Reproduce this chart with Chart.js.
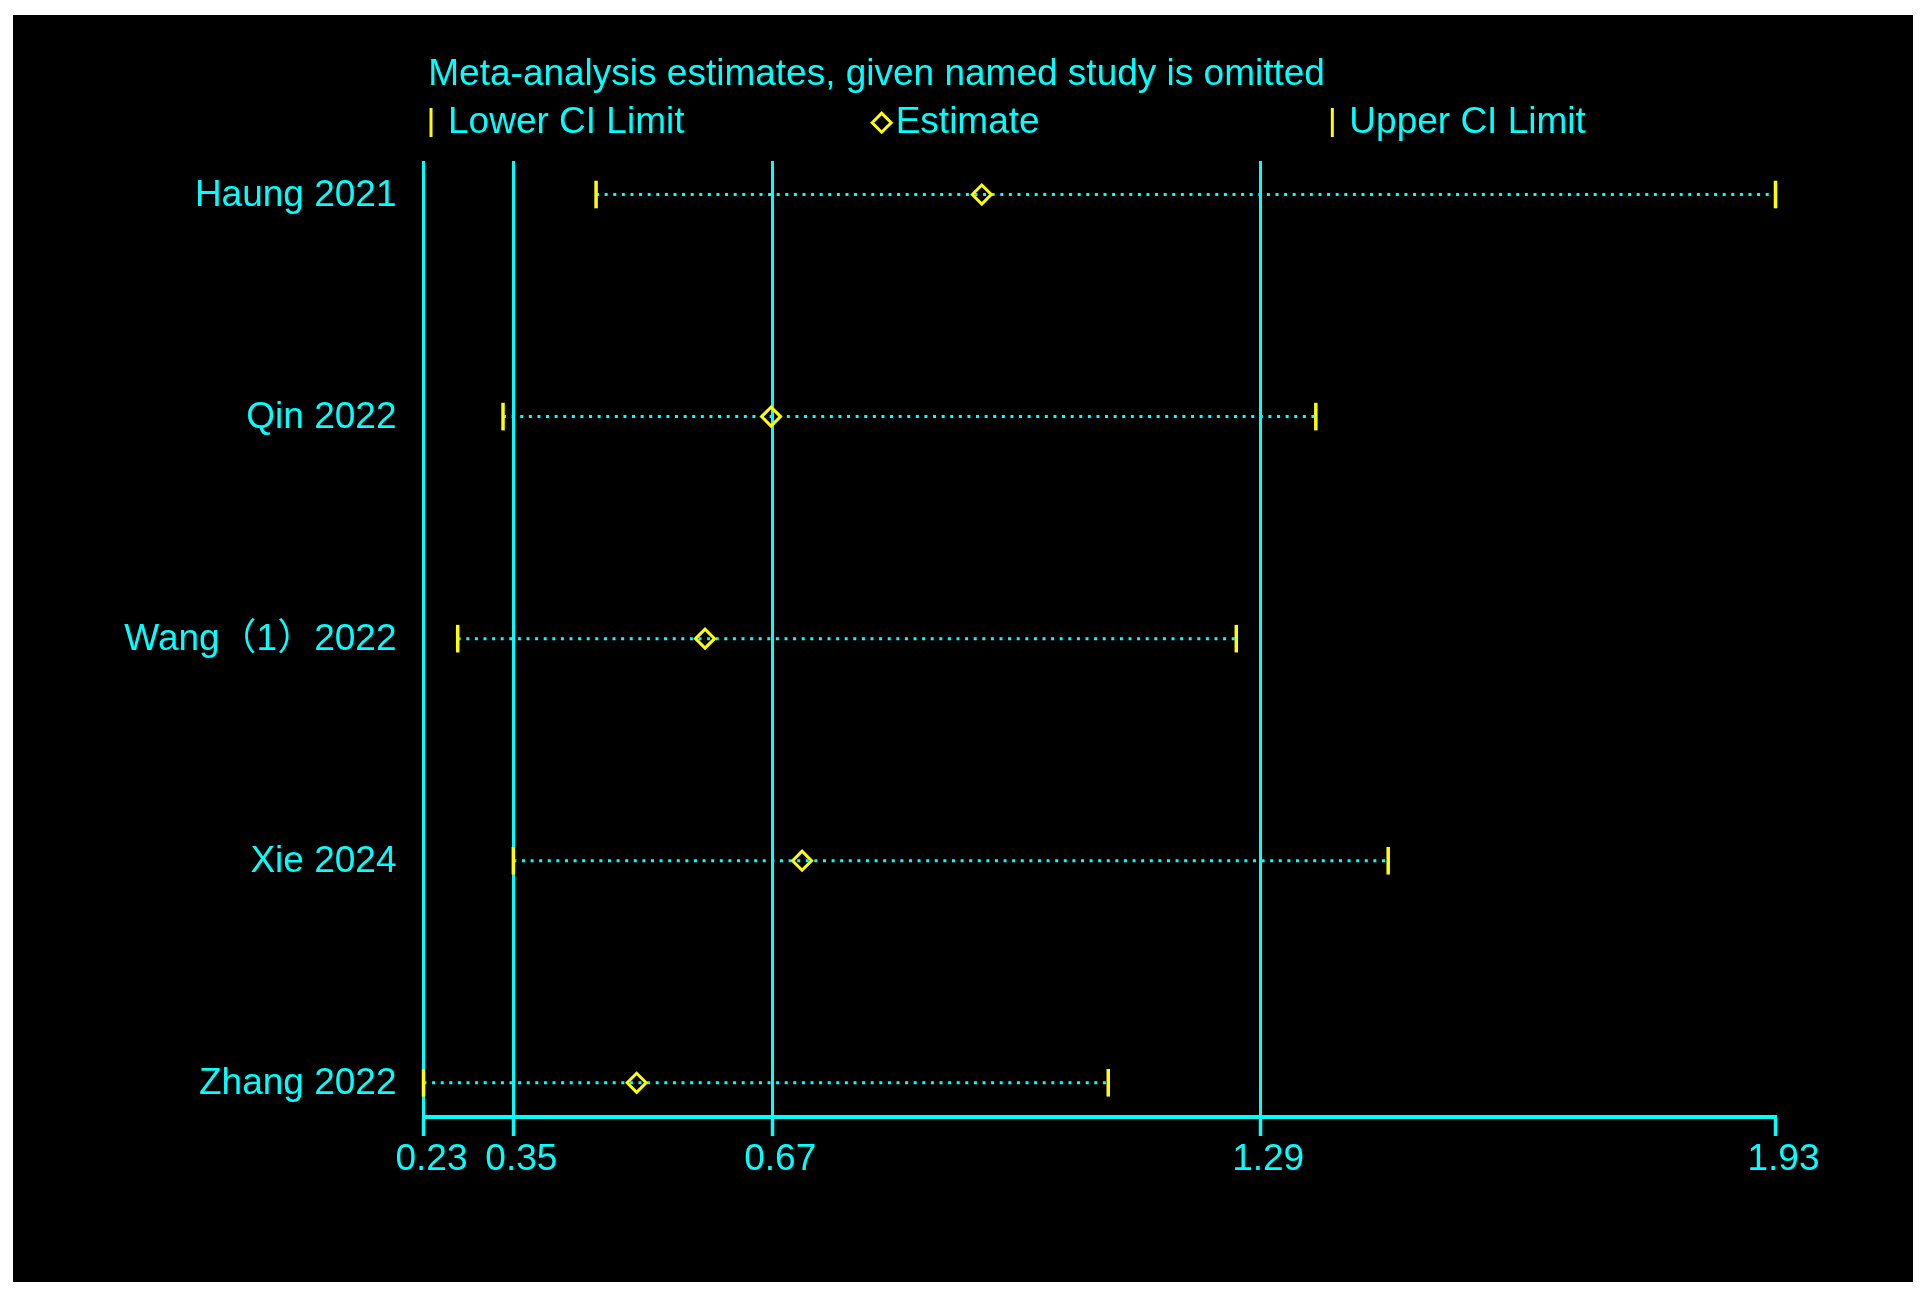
<!DOCTYPE html>
<html>
<head>
<meta charset="utf-8">
<script src="https://cdn.jsdelivr.net/npm/chart.js@4.4.1/dist/chart.umd.min.js"></script>
<style>
html,body{margin:0;padding:0;background:#fff;width:1931px;height:1302px;overflow:hidden;}
#wrap{position:absolute;left:13px;top:15px;width:1900px;height:1267px;background:#000;}
canvas{display:block;}
</style>
</head>
<body>
<div id="wrap"><canvas id="c" width="1900" height="1267"></canvas></div>
<script>
// ---- data ----
const studies = ['Haung 2021', 'Qin 2022', 'Wang（1）2022', 'Xie 2024', 'Zhang 2022'];
const lowerCI  = [0.447, 0.330, 0.273, 0.343, 0.230];
const estimate = [0.932, 0.667, 0.584, 0.706, 0.498];
const upperCI  = [1.930, 1.352, 1.252, 1.443, 1.091];
const tickValues = [0.23, 0.343, 0.6685, 1.282, 1.93];
const tickLabels = ['0.23', '0.35', '0.67', '1.29', '1.93'];
const legendLabels = ['Lower CI Limit', 'Estimate', 'Upper CI Limit'];
const titleText = 'Meta-analysis estimates, given named study is omitted';

// ---- styles ----
const CYAN = '#00FFFF';
const YELLOW = '#FFFF00';
const FONT = '"Liberation Sans", Arial, "Noto Sans CJK SC", sans-serif';
const FSIZE = 37;

const pts = arr => arr.map((v, i) => ({x: v, y: i}));

const datasets = [
  {
    label: legendLabels[1], data: pts(estimate),
    pointStyle: 'rectRot', pointRadius: 9.5, pointBorderWidth: 3,
    pointBorderColor: YELLOW, pointBackgroundColor: 'rgba(0,0,0,0)',
    showLine: false, clip: false
  },
  {
    label: legendLabels[0], data: pts(lowerCI),
    pointStyle: 'line', pointRotation: 90, pointRadius: 13.8, pointBorderWidth: 3.5,
    pointBorderColor: YELLOW, pointBackgroundColor: YELLOW,
    showLine: false, clip: false
  },
  {
    label: legendLabels[2], data: pts(upperCI),
    pointStyle: 'line', pointRotation: 90, pointRadius: 13.8, pointBorderWidth: 3.5,
    pointBorderColor: YELLOW, pointBackgroundColor: YELLOW,
    showLine: false, clip: false
  }
];
studies.forEach((s, i) => {
  datasets.push({
    type: 'line', label: s,
    data: [{x: lowerCI[i], y: i}, {x: upperCI[i], y: i}],
    borderColor: CYAN, borderWidth: 3, borderDash: [3, 5.6], borderCapStyle: 'butt',
    pointRadius: 0, fill: false, clip: false
  });
});

const overlay = {
  id: 'overlay',
  afterDraw(chart) {
    const {ctx, chartArea: a} = chart;
    ctx.save();
    ctx.font = FSIZE + 'px ' + FONT;
    ctx.textBaseline = 'alphabetic';
    ctx.textAlign = 'left';
    ctx.fillStyle = CYAN;
    ctx.fillText(titleText, a.left + 4.8, 70);
    const colW = a.width / 3;
    legendLabels.forEach((lab, i) => {
      const x0 = a.left + i * colW + 7.5;
      ctx.strokeStyle = YELLOW;
      ctx.lineWidth = 3;
      ctx.beginPath();
      if (i === 1) {
        const r = 9.5, cy = 107.7;
        ctx.moveTo(x0 - r, cy); ctx.lineTo(x0, cy - r);
        ctx.lineTo(x0 + r, cy); ctx.lineTo(x0, cy + r); ctx.closePath();
      } else {
        ctx.moveTo(x0, 93); ctx.lineTo(x0, 122);
      }
      ctx.stroke();
      ctx.fillStyle = CYAN;
      ctx.fillText(lab, x0 + (i === 1 ? 14 : 17), 118);
    });
    ctx.restore();
  }
};

new Chart(document.getElementById('c'), {
  type: 'scatter',
  data: {datasets},
  plugins: [overlay],
  options: {
    responsive: false,
    animation: false,
    events: [],
    layout: {padding: {top: 146, right: 137.5, bottom: 0, left: 0}},
    plugins: {legend: {display: false}, tooltip: {enabled: false}, title: {display: false}},
    scales: {
      x: {
        type: 'linear', min: 0.23, max: 1.93,
        afterBuildTicks: sc => { sc.ticks = tickValues.map(v => ({value: v})); },
        afterFit: sc => { sc.height = 165; },
        grid: {
          color: c => (c.index === tickValues.length - 1 ? 'rgba(0,0,0,0)' : CYAN),
          lineWidth: 3, tickColor: CYAN, tickWidth: 3.5, tickLength: 19,
          drawTicks: true, drawOnChartArea: true
        },
        border: {display: true, color: CYAN, width: 4},
        ticks: {
          color: CYAN, font: {family: FONT, size: FSIZE, lineHeight: 1.2},
          padding: 1.5, labelOffset: 8, maxRotation: 0, autoSkip: false,
          callback: (v, i) => tickLabels[i]
        }
      },
      y: {
        type: 'linear', reverse: true, min: -0.151, max: 4.154,
        afterBuildTicks: sc => { sc.ticks = studies.map((_, i) => ({value: i})); },
        afterFit: sc => { sc.width = 410.5; },
        grid: {display: false, drawTicks: false},
        border: {display: false},
        ticks: {
          color: CYAN, font: {family: FONT, size: FSIZE, lineHeight: 1.2},
          padding: 27, labelOffset: 1, autoSkip: false,
          callback: v => studies[v]
        }
      }
    }
  }
});
</script>
</body>
</html>
